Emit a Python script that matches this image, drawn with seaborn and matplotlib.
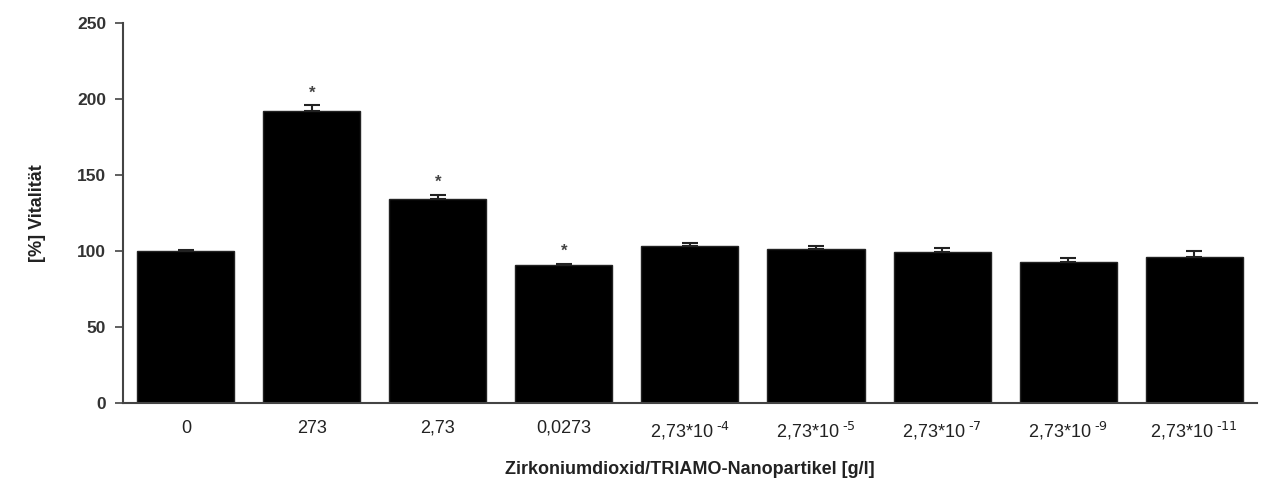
import matplotlib
matplotlib.use("Agg")
import matplotlib.pyplot as plt
import seaborn as sns
import numpy as np
import pandas as pd

categories = ["0", "273", "2,73", "0,0273", "2,73*10$^{\\text{ -4}}$", "2,73*10$^{\\text{ -5}}$",
              "2,73*10$^{\\text{ -7}}$", "2,73*10$^{\\text{ -9}}$", "2,73*10$^{\\text{ -11}}$"]
values = [100, 192, 134, 90.5, 103, 101, 99, 92.5, 96]
errors = [0.8, 4, 3, 1, 2, 2, 3, 3, 4]
significant = [False, True, True, True, False, False, False, False, False]

sns.set_theme(style="white")
plt.rcParams['font.family'] = ['Liberation Sans Narrow', 'Liberation Sans', 'DejaVu Sans']
plt.rcParams['mathtext.fontset'] = 'custom'
plt.rcParams['mathtext.rm'] = 'Liberation Sans Narrow'

fig = plt.figure(figsize=(12.66, 4.87), dpi=100)
ax = fig.add_axes([0.097, 0.1725, 0.896, 0.7805])

df = pd.DataFrame({"cat": categories, "val": values})
sns.barplot(data=df, x="cat", y="val", color="black", saturation=1, width=0.77,
            edgecolor="#222222", linewidth=1, ax=ax, errorbar=None)
xs = np.arange(len(categories))
ax.errorbar(xs, values, yerr=[np.zeros(len(errors)), errors], fmt="none",
            ecolor="#222222", elinewidth=1.5, capsize=6, capthick=1.5)
for x, v, e, s in zip(xs, values, errors, significant):
    if s:
        ax.text(x, v + e + 8, "*", ha="center", va="center", fontsize=12,
                fontweight="bold", color="#444444")

ax.set_xlim(-0.5, len(categories) - 0.5)
ax.set_ylim(0, 250)
ax.set_yticks([0, 50, 100, 150, 200, 250])
ax.set_yticklabels(["0", "50", "100", "150", "200", "250"], fontsize=12.5,
                   fontweight="bold", color="#333333", family=["Liberation Sans", "DejaVu Sans"])
ax.set_xticks(xs)
ax.set_xticklabels(categories, fontsize=13, color="#222222")
ax.set_xticks(np.arange(len(categories) + 1) - 0.5, minor=True)
ax.tick_params(axis="x", which="major", length=0, pad=12)
ax.tick_params(axis="x", which="minor", length=6, width=1.2, color="#444444", direction="out")
ax.tick_params(axis="y", which="major", length=6, width=1.2, color="#444444", direction="out", left=True, pad=6)

for side in ["top", "right"]:
    ax.spines[side].set_visible(False)
for side in ["left", "bottom"]:
    ax.spines[side].set_color("#444444")
    ax.spines[side].set_linewidth(1.5)

ax.set_xlabel("Zirkoniumdioxid/TRIAMO-Nanopartikel [g/l]", fontsize=13, fontweight="bold",
              color="#222222", labelpad=14, family=["Liberation Sans", "DejaVu Sans"])
ax.set_ylabel("[%] Vitalität", fontsize=13, fontweight="bold", color="#222222",
              labelpad=22, family=["Liberation Sans", "DejaVu Sans"])

fig.savefig("out.png", dpi=100, facecolor="white")
